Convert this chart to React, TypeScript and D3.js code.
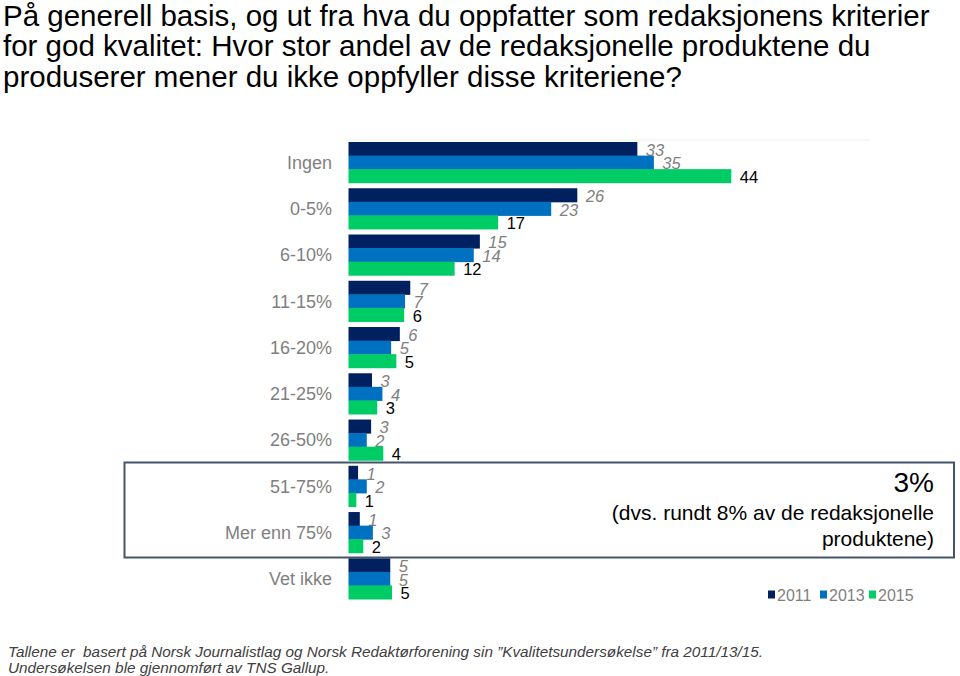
import React from "react";
import * as d3 from "d3";

const categories = ["Ingen", "0-5%", "6-10%", "11-15%", "16-20%", "21-25%", "26-50%", "51-75%", "Mer enn 75%", "Vet ikke"];
const seriesNames = ["2011", "2013", "2015"];
const values2011 = [33.2, 26.3, 15.1, 7.1, 5.9, 2.7, 2.6, 1.1, 1.3, 4.8];
const values2013 = [35.1, 23.3, 14.4, 6.5, 4.9, 3.9, 2.1, 2.1, 2.8, 4.8];
const values2015 = [44.0, 17.2, 12.2, 6.4, 5.5, 3.3, 4.0, 0.9, 1.7, 5.0];
const labels2011 = ["33", "26", "15", "7", "6", "3", "3", "1", "1", "5"];
const labels2013 = ["35", "23", "14", "7", "5", "4", "2", "2", "3", "5"];
const labels2015 = ["44", "17", "12", "6", "5", "3", "4", "1", "2", "5"];
const colors = ["#002060", "#0070C0", "#00CC66"];

const titleLines = [
  "På generell basis, og ut fra hva du oppfatter som redaksjonens kriterier",
  "for god kvalitet: Hvor stor andel av de redaksjonelle produktene du",
  "produserer mener du ikke oppfyller disse kriteriene?",
];
const noteLines = ["3%", "(dvs. rundt 8% av de redaksjonelle", "produktene)"];
const footLines = [
  "Tallene er  basert på Norsk Journalistlag og Norsk Redaktørforening sin ”Kvalitetsundersøkelse” fra 2011/13/15.",
  "Undersøkelsen ble gjennomført av TNS Gallup.",
];

const FONT = "'Liberation Sans', Arial, sans-serif";

export default function App() {
  const W = 960;
  const H = 676;
  const x = d3.scaleLinear().domain([0, 50]).range([348.5, 348.5 + 435]);
  const y = d3.scaleBand<string>().domain(categories).range([142, 599]).paddingInner(0.12).paddingOuter(0);
  const inner = d3.scaleBand<string>().domain(seriesNames).range([0, y.bandwidth()]).padding(0);
  const seriesVals = [values2011, values2013, values2015];
  const seriesLabels = [labels2011, labels2013, labels2015];

  return (
    <svg width={W} height={H} style={{ position: "absolute", left: 0, top: 0, background: "#fff" }} fontFamily={FONT}>
      {titleLines.map((t, i) => (
        <text key={i} x={3} y={25.5 + i * 30.5} fontSize={29.5} fill="#000" style={{ whiteSpace: "pre" }}>{t}</text>
      ))}
      <line x1={x(0)} x2={870} y1={140} y2={140} stroke="#eeeeee" strokeWidth={1} />
      {categories.map((c, ci) => (
        <g key={c}>
          <text x={332} y={(y(c) as number) + y.bandwidth() / 2 + 6.5} textAnchor="end" fontSize={18} fill="#7f7f7f">{c}</text>
          {seriesNames.map((s, si) => {
            const v = seriesVals[si][ci];
            const by = (y(c) as number) + (inner(s) as number);
            const bh = inner.bandwidth();
            return (
              <g key={s}>
                <rect x={x(0)} y={by} width={x(v) - x(0)} height={bh + 0.5} fill={colors[si]} />
                <text
                  x={x(v) + 8.5}
                  y={by + bh / 2 + 7}
                  fontSize={16.5}
                  fontStyle={si < 2 ? "italic" : "normal"}
                  fill={si < 2 ? "#808080" : "#000"}
                >
                  {seriesLabels[si][ci]}
                </text>
              </g>
            );
          })}
        </g>
      ))}
      <rect x={124.5} y={462.5} width={829.5} height={95} fill="none" stroke="#44546A" strokeWidth={2} />
      <text x={934} y={492} textAnchor="end" fontSize={28} fill="#000">{noteLines[0]}</text>
      <text x={934} y={520} textAnchor="end" fontSize={21} fill="#000">{noteLines[1]}</text>
      <text x={934} y={546} textAnchor="end" fontSize={21} fill="#000">{noteLines[2]}</text>
      {seriesNames.map((s, i) => {
        const lx = [768, 820, 869][i];
        return (
          <g key={s}>
            <rect x={lx} y={590.5} width={7} height={8} fill={colors[i]} />
            <text x={lx + 9} y={601} fontSize={16} fill="#7f7f7f">{s}</text>
          </g>
        );
      })}
      {footLines.map((t, i) => (
        <text key={i} x={8} y={656.5 + i * 16.5} fontSize={15.3} fontStyle="italic" fill="#404040" style={{ whiteSpace: "pre" }}>{t}</text>
      ))}
    </svg>
  );
}
